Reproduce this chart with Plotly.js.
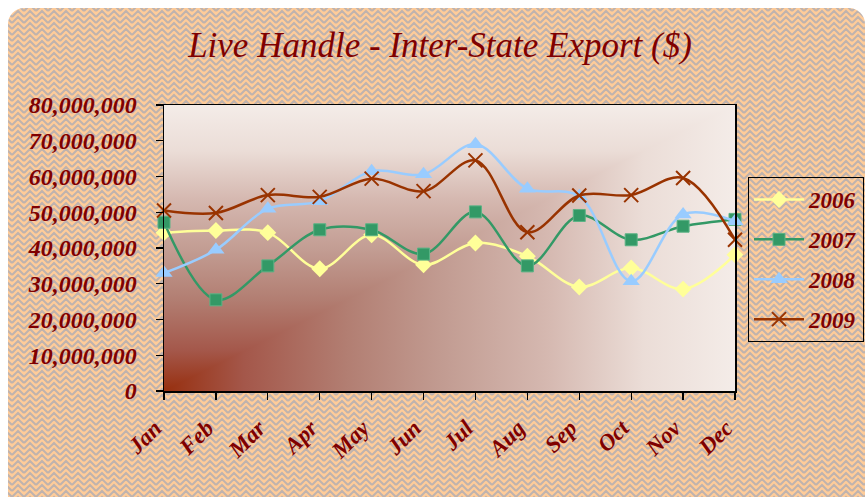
<!DOCTYPE html>
<html>
<head>
<meta charset="utf-8">
<script src="https://cdn.plot.ly/plotly-3.0.1.min.js"></script>
<style>html,body{margin:0;padding:0;background:#fff;}#chart{width:867px;height:497px;}</style>
</head>
<body>
<div id="chart"></div>
<script>
var months = ["Jan","Feb","Mar","Apr","May","Jun","Jul","Aug","Sep","Oct","Nov","Dec"];
var y2006 = [44300000, 44900000, 44300000, 34200000, 43700000, 35300000, 41400000, 37700000, 29100000, 34400000, 28500000, 38100000];
var y2007 = [47200000, 25500000, 35000000, 45100000, 45100000, 38300000, 50100000, 35000000, 49100000, 42300000, 46100000, 48000000];
var y2008 = [33000000, 39500000, 51000000, 53100000, 61500000, 60600000, 69000000, 56600000, 54500000, 30700000, 49400000, 47500000];
var y2009 = [50500000, 49800000, 54800000, 54300000, 59400000, 55900000, 64500000, 44400000, 54700000, 54800000, 59600000, 42300000];
var seriesNames = ["2006","2007","2008","2009"];

var W = 867, H = 497, ML = 164, MR = 132, MT = 105, MB = 106;
var PW = W - ML - MR, PH = H - MT - MB;
var red = "#800000";

var stops = [[0,"#972F0F"],[0.14,"#A4574A"],[0.32,"#B27E72"],[0.49,"#C29C92"],[0.67,"#D5B8B0"],[0.84,"#EBDDD7"],[1,"#F4ECE8"]];
function stopStr(){ return stops.map(function(s){return '<stop offset="'+s[0]+'" stop-color="'+s[1]+'"/>';}).join(''); }

var svg = '<svg xmlns="http://www.w3.org/2000/svg" width="'+W+'" height="'+H+'" viewBox="0 0 '+W+' '+H+'" preserveAspectRatio="none">'+
 '<defs>'+
 '<pattern id="p" width="12" height="12" patternUnits="userSpaceOnUse">'+
 '<rect width="12" height="12" fill="#FFCC99"/>'+
 '<path d="M0,5 L6,-1 L12,5 M0,11 L6,5 L12,11 M0,17 L6,11 L12,17" fill="none" stroke="#BFB3AE" stroke-width="2"/>'+
 '</pattern>'+
 '<linearGradient id="gv" x1="0" y1="1" x2="0" y2="0">'+stopStr()+'</linearGradient>'+
 '<linearGradient id="gh" x1="0" y1="0" x2="1" y2="0">'+stopStr()+'</linearGradient>'+
 '</defs>'+
 '<rect x="8" y="8" width="857" height="510" rx="16" ry="16" fill="url(#p)"/>'+
 '<svg x="'+ML+'" y="'+MT+'" width="'+PW+'" height="'+PH+'" viewBox="0 0 100 100" preserveAspectRatio="none">'+
 '<rect x="0" y="0" width="100" height="100" fill="url(#gv)"/>'+
 '<polygon points="100,0 100,100 0,100" fill="url(#gh)"/>'+
 '</svg>'+
 '</svg>';
var src = "data:image/svg+xml;charset=utf-8," + encodeURIComponent(svg);

function tr(name, y, color, msym, msize, extra){
  var t = {
    type:"scatter", mode:"lines+markers", name:name, x:months, y:y,
    line:{color:color, width:2.5, shape:"spline", smoothing:1},
    marker:{symbol:msym, size:msize, color:color, line:{width:0, color:color}},
    cliponaxis:false, legendgroup:name
  };
  if (extra) extra(t);
  return t;
}
var data = [
  tr(seriesNames[0], y2006, "#FFFF99", "diamond", 13),
  tr(seriesNames[1], y2007, "#339966", "square", 12, function(t){t.marker.line={width:1,color:"#5BB385"};}),
  tr(seriesNames[2], y2008, "#99CCFF", "triangle-up", 15),
  tr(seriesNames[3], y2009, "#993300", "x-thin", 14, function(t){t.marker.line={width:2,color:"#993300"};})
];

var tickFont = {family:"Liberation Serif, serif", size:24, color:red, weight:"bold", style:"italic"};
var layout = {
  width:W, height:H,
  margin:{l:ML, r:MR, t:MT, b:MB, pad:0, autoexpand:false},
  paper_bgcolor:"#ffffff",
  plot_bgcolor:"rgba(0,0,0,0)",
  showlegend:true,
  title:{text:"Live Handle - Inter-State Export ($)", x:440/W, xanchor:"center", xref:"container",
         y:1-45/H, yanchor:"middle", yref:"container",
         font:{family:"Liberation Serif, serif", size:35, color:red, style:"italic"}},
  xaxis:{type:"category", range:[0,11], showgrid:false, zeroline:false,
         showline:true, linecolor:"#000", linewidth:1.5, mirror:true,
         ticks:"outside", ticklen:7, tickcolor:"#000", tickwidth:1.2,
         ticklabelstandoff:6, ticklabelshift:-9,
         tickangle:-45, tickfont:{family:"Liberation Serif, serif", size:23, color:red, weight:"bold", style:"italic"}},
  yaxis:{range:[0,80000000], dtick:10000000, tick0:0, tickformat:",d", showgrid:false, zeroline:false,
         showline:true, linecolor:"#000", linewidth:1.5, mirror:true,
         ticks:"outside", ticklen:7, tickcolor:"#000", tickwidth:1.2,
         ticklabelstandoff:14, tickfont:tickFont},
  legend:{x:(748-ML)/PW, xanchor:"left", y:1-(177-MT)/PH, yanchor:"top",
          bgcolor:"rgba(0,0,0,0)", bordercolor:"#000", borderwidth:1,
          font:{family:"Liberation Serif, serif", size:23, color:red, weight:"bold", style:"italic"},
          itemwidth:50, tracegroupgap:7, traceorder:"grouped"},
  images:[{source:src, xref:"paper", yref:"paper", x:-ML/PW, y:1+MT/PH, sizex:W/PW, sizey:H/PH,
           xanchor:"left", yanchor:"top", sizing:"stretch", layer:"below"}]
};
Plotly.newPlot("chart", data, layout, {displayModeBar:false, staticPlot:true});
</script>
</body>
</html>
